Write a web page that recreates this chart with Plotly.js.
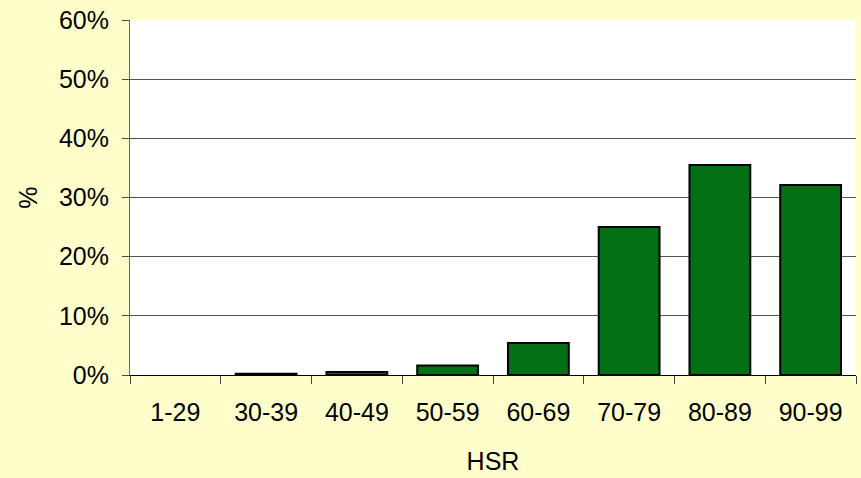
<!DOCTYPE html>
<html>
<head>
<meta charset="utf-8">
<script src="https://cdn.plot.ly/plotly-3.0.1.min.js"></script>
<style>html,body{margin:0;padding:0;background:#FFFFCC;}</style>
</head>
<body>
<div id="chart" style="width:861px;height:478px;"></div>
<script>
const categories = ["1-29", "30-39", "40-49", "50-59", "60-69", "70-79", "80-89", "90-99"];
const percentValues = [0, 0.2, 0.5, 1.6, 5.4, 25.0, 35.5, 32.1];
const yTickValues = [0, 10, 20, 30, 40, 50, 60];
const yTickLabels = ["0%", "10%", "20%", "30%", "40%", "50%", "60%"];

const trace = {
  type: 'bar',
  x: categories,
  y: percentValues,
  marker: {
    color: '#037014',
    line: { color: '#000000', width: percentValues.map(v => v > 0 ? 2 : 0) }
  },
  hoverinfo: 'skip'
};

const layout = {
  width: 861, height: 478,
  paper_bgcolor: '#FFFFCC',
  plot_bgcolor: '#FFFFFF',
  margin: { l: 130, r: 5, t: 20, b: 103 },
  bargap: 0.33,
  showlegend: false,
  font: { family: 'Liberation Sans, Arial, sans-serif', size: 25, color: '#000' },
  xaxis: {
    type: 'category',
    tickson: 'boundaries',
    ticks: 'outside', ticklen: 8, tickcolor: '#444', tickwidth: 1,
    showline: true, linecolor: '#000', linewidth: 1,
    showgrid: false,
    tickfont: { size: 25 },
    ticklabelstandoff: 15,
    title: { text: 'HSR', font: { size: 25 }, standoff: 27 }
  },
  yaxis: {
    range: [0, 60],
    tickvals: yTickValues,
    ticktext: yTickLabels,
    ticks: 'outside', ticklen: 7, tickcolor: '#444', tickwidth: 1,
    showline: true, linecolor: '#666', linewidth: 1,
    showgrid: true, gridcolor: '#555', gridwidth: 1,
    zeroline: false,
    tickfont: { size: 25 },
    ticklabelstandoff: 8,
    title: { text: '%', font: { size: 25 }, standoff: 14 }
  }
};

Plotly.newPlot('chart', [trace], layout, { displayModeBar: false, staticPlot: true });
</script>
</body>
</html>
